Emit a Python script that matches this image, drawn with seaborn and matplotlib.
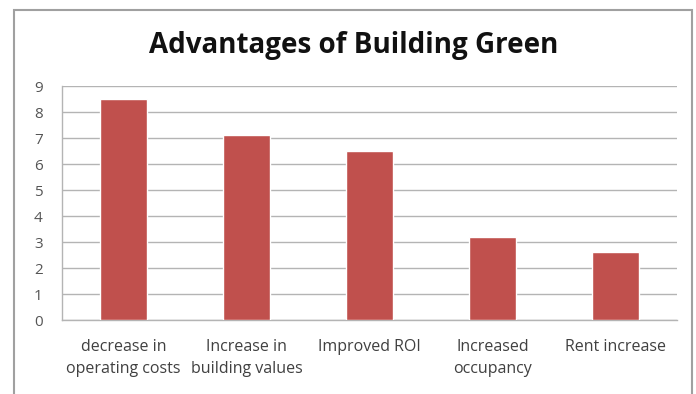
import matplotlib
matplotlib.use('Agg')
import matplotlib.pyplot as plt
import seaborn as sns
import pandas as pd
from matplotlib.patches import Rectangle

# Данные
categories = ['decrease in\noperating costs', 'Increase in\nbuilding values',
              'Improved ROI', 'Increased\noccupancy', 'Rent increase']
values = [8.5, 7.1, 6.5, 3.2, 2.6]
title = 'Advantages of Building Green'

df = pd.DataFrame({'category': categories, 'value': values})

sns.set_theme(style='white')
plt.rcParams['font.family'] = ['Open Sans', 'DejaVu Sans']

W, H = 696, 394
fig = plt.figure(figsize=(W / 100, H / 100), dpi=100)
ax = fig.add_axes([62 / W, 1 - 320 / H, (677 - 62) / W, (320 - 86) / H])

sns.barplot(data=df, x='category', y='value', color='#C0504D', width=0.39,
            saturation=1, ax=ax, zorder=3)

ax.set_ylim(0, 9)
ax.set_yticks(range(0, 10))
ax.set_xlim(-0.5, 4.5)
ax.grid(axis='y', color='#B4B4B4', linewidth=1, zorder=0)
ax.set_xlabel('')
ax.set_ylabel('')
for s in ['top', 'right']:
    ax.spines[s].set_visible(False)
for s in ['left', 'bottom']:
    ax.spines[s].set_color('#B4B4B4')
    ax.spines[s].set_linewidth(1)
ax.tick_params(axis='y', labelsize=11, colors='#555555', length=0, pad=14)
ax.tick_params(axis='x', labelsize=11.5, colors='#404040', length=0, pad=14)
for lbl in ax.get_xticklabels():
    lbl.set_linespacing(1.45)

fig.text(354 / W, 1 - 45 / H, title, ha='center', va='center',
         fontsize=20, fontweight='bold', color='#111111')

# рамка вокруг диаграммы
fig.patches.append(Rectangle((14 / W, -0.05), (692 - 14) / W, 1 - 10 / H + 0.05,
                             transform=fig.transFigure, fill=False,
                             edgecolor='#A0A0A0', linewidth=1.5))

fig.savefig('out.png', dpi=100)
